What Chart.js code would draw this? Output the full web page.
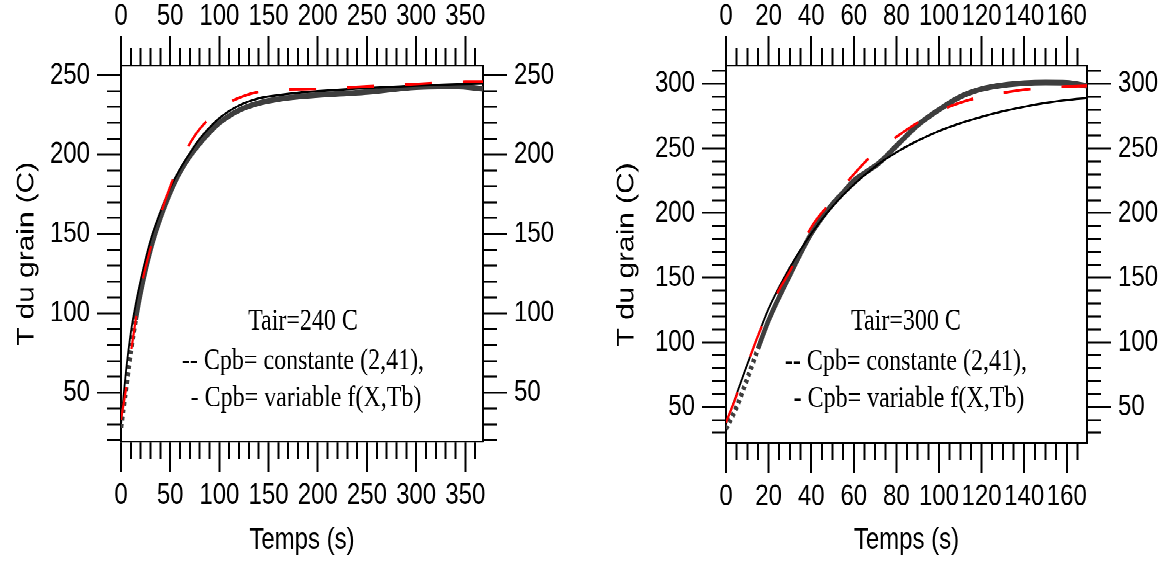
<!DOCTYPE html>
<html>
<head>
<meta charset="utf-8">
<script src="https://cdn.jsdelivr.net/npm/chart.js@4.4.1/dist/chart.umd.min.js"></script>
<style>
  html, body { margin: 0; padding: 0; background: #fff; }
  /* la figure d'origine est etiree verticalement (561/452) */
  #wrap { position: absolute; left: 0; top: 0; width: 1163px; height: 452px;
          transform: scaleY(1.2412); transform-origin: 0 0; }
  .cell { position: absolute; top: 0; height: 452px; }
</style>
</head>
<body>
<div id="wrap">
  <div class="cell" style="left:0;width:580px"><canvas id="g240"></canvas></div>
  <div class="cell" style="left:580px;width:583px"><canvas id="g300"></canvas></div>
</div>
<script>
// Tair = 240 C
var t240Mesure = [0, 5, 10, 15, 20, 30, 40, 50, 60, 70, 80, 90, 100, 120, 140, 160, 180, 200, 250, 300, 340, 368];
var T240Mesure = [28, 52, 76, 96, 113, 140, 160, 176, 189, 199, 207, 214, 220, 228, 232.5, 235, 236.5, 237.5, 239.5, 242.5, 243, 241.5];
var t240Var = [0, 5, 10, 15, 20, 30, 40, 50, 60, 70, 80, 90, 100, 120, 140, 160, 180, 200, 250, 300, 350, 368];
var T240Var = [30, 63, 88, 106, 121, 146, 164, 179, 191, 201, 210, 217, 223, 231, 235.5, 237.5, 239, 240, 242, 243.5, 244.5, 244.8];
var t240Const = [0, 5, 10, 20, 30, 40, 50, 60, 75, 90, 100, 125, 150, 200, 250, 300, 350, 368];
var T240Const = [33, 52, 75, 115, 141, 162, 180, 195, 212, 223, 229, 237, 240.5, 241.5, 243, 244.5, 246, 246];

// Tair = 300 C
var t300Mesure = [0, 5, 10, 15, 20, 30, 40, 50, 55, 60, 66, 72, 80, 90, 100, 110, 120, 130, 140, 150, 160, 169.5];
var T300Mesure = [33, 50, 72, 95, 117, 152, 184, 207, 216, 225, 232, 239, 252, 268, 280, 290, 296, 299, 300.5, 301, 300.8, 298.5];
var t300Var = [0, 5, 10, 15, 20, 30, 40, 50, 60, 70, 80, 90, 100, 110, 120, 130, 140, 150, 160, 169.5];
var T300Var = [37, 60, 83, 105, 126, 158, 184, 205, 222, 236, 247, 256, 263.5, 269.5, 274.5, 278.8, 282.3, 285.3, 287.5, 289];
var t300Const = [0, 5, 12, 17.5, 25, 30, 40, 50, 60, 70, 80, 90, 100, 110, 120, 130, 140, 150, 160, 169.5];
var T300Const = [38, 59, 92, 115, 141, 155, 189, 210, 230, 247, 259, 270, 279, 285.5, 290, 293, 295.5, 297, 298, 298.5];

var notes240 = ['Tair=240 C', '-- Cpb= constante (2,41),', ' - Cpb= variable f(X,Tb)'];
var notes300 = ['Tair=300 C', '-- Cpb= constante (2,41),', ' - Cpb= variable f(X,Tb)'];

Chart.defaults.font.family = '"Liberation Sans", Arial, sans-serif';
Chart.defaults.color = '#000';

function pts(t, T) {
    return t.map(function (v, i) { return {x: v, y: T[i]}; });
}

// texte dans le graphe
var notesPlugin = {
    id: 'notes',
    afterDatasetsDraw: function (chart, args, opts) {
        var ctx = chart.ctx, xs = chart.scales.x, ys = chart.scales.y;
        ctx.save();
        ctx.font = '24px "Liberation Serif", "Times New Roman", serif';
        ctx.fillStyle = '#000';
        ctx.textAlign = 'center';
        ctx.textBaseline = 'middle';
        opts.lines.forEach(function (txt, i) {
            ctx.fillText(txt, xs.getPixelForValue(opts.x), ys.getPixelForValue(opts.y[i]));
        });
        ctx.restore();
    }
};

function axe(pos, min, max, pas, major, taille, pad, titre, titrePad) {
    var horiz = (pos === 'top' || pos === 'bottom');
    var versExt = (pos === 'left' || pos === 'top');
    return {
        type: 'linear',
        position: pos,
        min: min,
        max: max,
        afterFit: function (s) { if (horiz) { s.height = taille; } else { s.width = taille; } },
        border: {display: true, color: '#000', width: horiz ? 1.6 : 2},
        grid: {
            drawOnChartArea: false,
            drawTicks: true,
            tickLength: 24,
            tickWidth: horiz ? 2 : 1.6,
            tickColor: '#000',
            tickBorderDash: function (c) {
                if (!c.tick || c.tick.value % major === 0) return [];
                return versExt ? [0, 10, 13, 100] : [13, 100];
            }
        },
        ticks: {
            stepSize: pas,
            includeBounds: false,
            autoSkip: false,
            maxRotation: 0,
            minRotation: 0,
            padding: pad,
            color: '#000',
            font: {size: 24},
            callback: function (v) { return v % major === 0 ? String(v) : ''; }
        },
        title: titre ? {display: true, text: titre, color: '#000', font: {size: 24}, padding: titrePad} : {display: false}
    };
}

function graphe(id, mes, vari, cons, ax, notes) {
    return new Chart(document.getElementById(id), {
        type: 'line',
        data: {
            datasets: [{
                label: 'Cpb constante',
                data: cons,
                borderColor: '#ff0000',
                borderWidth: 2.2,
                borderDash: [27, 31],
                pointRadius: 0,
                cubicInterpolationMode: 'monotone'
            }, {
                label: 'Cpb variable',
                data: vari,
                borderColor: '#000',
                borderWidth: 1.8,
                pointRadius: 0,
                cubicInterpolationMode: 'monotone'
            }, {
                label: 'mesure',
                data: mes,
                borderColor: '#3e3e3e',
                borderWidth: 4.5,
                pointRadius: 0,
                cubicInterpolationMode: 'monotone',
                segment: {
                    borderDash: function (c) { return c.p0.parsed.x < 15 ? [3, 3] : undefined; }
                }
            }]
        },
        options: {
            responsive: true,
            maintainAspectRatio: false,
            animation: false,
            devicePixelRatio: 2,
            layout: {padding: 0},
            plugins: {legend: {display: false}, tooltip: {enabled: false}, notes: notes},
            scales: ax
        },
        plugins: [notesPlugin]
    });
}

graphe('g240', pts(t240Mesure, T240Mesure), pts(t240Var, T240Var), pts(t240Const, T240Const), {
    x: axe('bottom', 0, 368, 10, 50, 96, 5, 'Temps (s)', {top: 0, bottom: 2}),
    x2: axe('top', 0, 368, 10, 50, 53, 1),
    y: axe('left', 19, 256, 10, 50, 121, 7, 'T du grain (C)', {top: 12.6, bottom: 0}),
    y2: axe('right', 19, 256, 10, 50, 97, 7)
}, {lines: notes240, x: 185, y: [94.8, 69.6, 46.3]});

graphe('g300', pts(t300Mesure, T300Mesure), pts(t300Var, T300Var), pts(t300Const, T300Const), {
    x: axe('bottom', 0, 169.5, 5, 20, 95, 5, 'Temps (s)', {top: 0, bottom: 2}),
    x2: axe('top', 0, 169.5, 5, 20, 53, 1),
    y: axe('left', 22, 314, 10, 50, 146, 7, 'T du grain (C)', {top: 32.6, bottom: 0}),
    y2: axe('right', 22, 314, 10, 50, 76, 7)
}, {lines: notes300, x: 84.5, y: [115.7, 84.7, 56]});
</script>
</body>
</html>
